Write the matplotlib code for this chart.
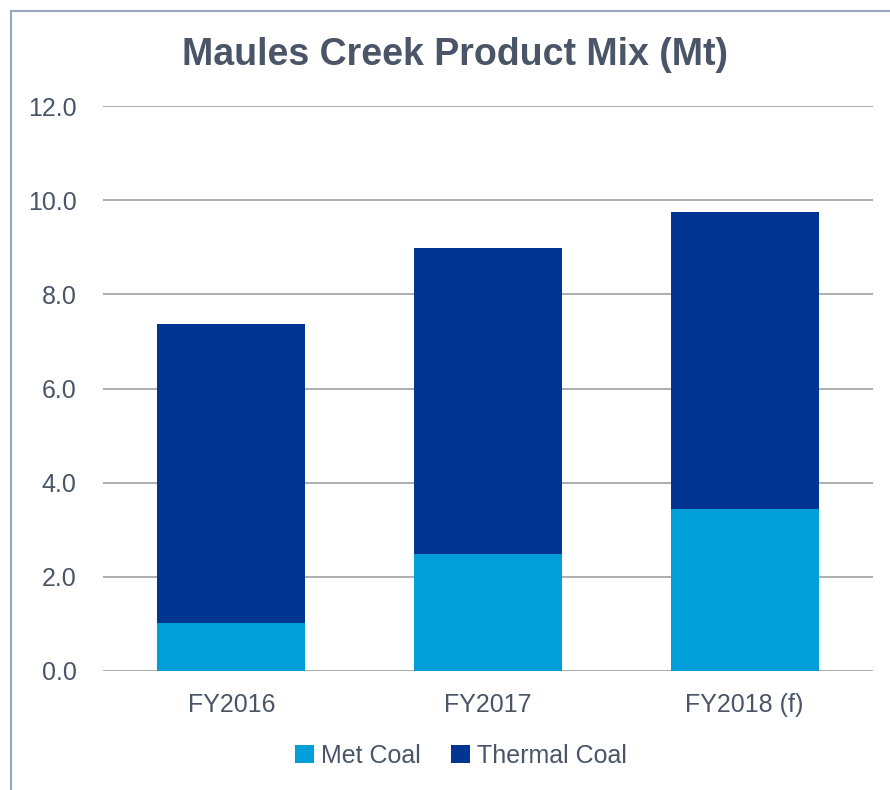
import matplotlib.pyplot as plt
from matplotlib.patches import Rectangle

# Dati del grafico
categories = ['FY2016', 'FY2017', 'FY2018 (f)']
met_coal = [1.03, 2.49, 3.45]
thermal_coal = [6.35, 6.50, 6.30]
y_ticks = [0, 2, 4, 6, 8, 10, 12]

MET_COLOR = '#009FDA'
THERMAL_COLOR = '#003591'
TEXT_COLOR = '#4A5568'
GRID_COLOR = '#A0A0A0'

plt.rcParams['font.family'] = ['Liberation Sans', 'DejaVu Sans']

fig = plt.figure(figsize=(8.9, 7.9), dpi=100)
ax = fig.add_axes([103 / 890, 119 / 790, 770 / 890, 565 / 790])

x = range(len(categories))
ax.bar(x, met_coal, width=0.576, color=MET_COLOR, label='Met Coal', zorder=3)
ax.bar(x, thermal_coal, width=0.576, bottom=met_coal, color=THERMAL_COLOR,
       label='Thermal Coal', zorder=3)

ax.set_xlim(-0.5, len(categories) - 0.5)
ax.set_ylim(0, 12)
ax.set_yticks(y_ticks)
ax.set_yticklabels([f'{v:.1f}' for v in y_ticks])
ax.set_xticks(list(x))
ax.set_xticklabels(categories)
ax.tick_params(axis='y', length=0, pad=19, labelsize=18, labelcolor=TEXT_COLOR)
ax.tick_params(axis='x', length=0, pad=16, labelsize=18, labelcolor=TEXT_COLOR)

ax.grid(axis='y', color=GRID_COLOR, linewidth=1.2, zorder=0)
for s in ax.spines.values():
    s.set_visible(False)

# Titolo
fig.text(0.5 + 10 / 890, 1 - 55 / 790, 'Maules Creek Product Mix (Mt)', ha='center', va='center',
         fontsize=27, fontweight='bold', color=TEXT_COLOR)

# Legenda
leg = fig.legend(loc='center', bbox_to_anchor=(461 / 890, 1 - 756 / 790), ncol=2,
                 frameon=False, fontsize=18, handlelength=0.75, handleheight=0.75,
                 handletextpad=0.3, columnspacing=1.2, labelcolor=TEXT_COLOR)

# Bordo attorno al grafico
fig.patches.append(Rectangle((10.5 / 890, -0.05), 1.0, 1 - 10.5 / 790 + 0.05,
                             transform=fig.transFigure, fill=False,
                             edgecolor='#9AA5BE', linewidth=1.5))

fig.savefig('out.png', dpi=100)
plt.close(fig)
